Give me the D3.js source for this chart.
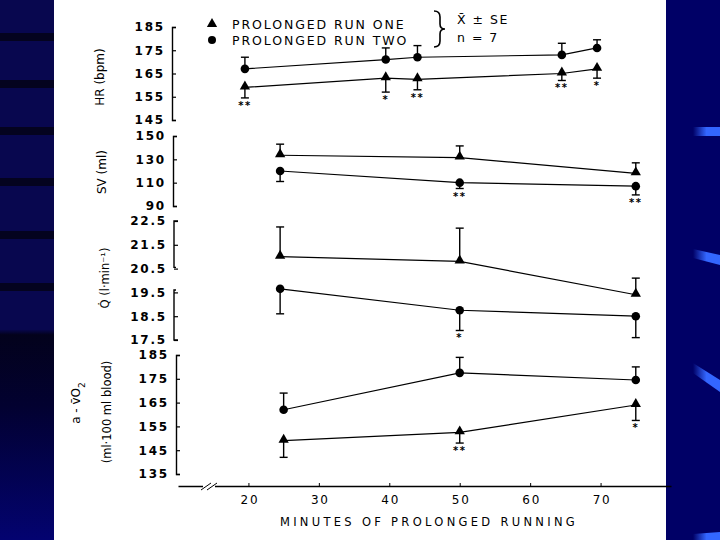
<!DOCTYPE html>
<html>
<head>
<meta charset="utf-8">
<script src="https://cdn.jsdelivr.net/npm/d3@7"></script>
<style>
  body { margin: 0; background: #fff; }
  svg { display: block; }
  text { font-family: "DejaVu Sans", "Liberation Sans", Arial, sans-serif; fill: #000; }
</style>
</head>
<body>
<svg id="chart" width="720" height="540"></svg>
<script>
// values
const hrMinutes = [19.5, 39.5, 44, 64.5, 69.5];
const hrRunOne = [159, 163, 162.5, 165, 167];
const hrRunOneSE = [4.5, 6, 4.5, 3, 4];
const hrRunTwo = [167, 171, 172, 173, 176];
const hrRunTwoSE = [5, 5, 5, 5, 3.5];
const hrStars = ["**", "*", "**", "**", "*"];

const svMinutes = [24.5, 50, 75];
const svRunOne = [133.5, 131.5, 118];
const svRunOneSE = [9.5, 10, 9];
const svRunTwo = [120, 110, 107];
const svRunTwoSE = [9, 5, 7.5];
const svStars = ["", "**", "**"];

const qMinutes = [24.5, 50, 75];
const qRunOne = [21.0, 20.8, 19.4];
const qRunOneSE = [1.25, 1.4, 0.7];
const qRunTwo = [19.65, 18.75, 18.5];
const qRunTwoSE = [1.05, 0.85, 0.9];
const qStars = ["", "*", ""];

const avMinutes = [25, 50, 75];
const avRunOne = [149, 152.5, 164];
const avRunOneSE = [7, 4.5, 6.5];
const avRunTwo = [162, 177.5, 174.5];
const avRunTwoSE = [7, 6.5, 5.5];
const avStars = ["", "**", "*"];

const xTicks = [20, 30, 40, 50, 60, 70];
const hrTicks = [145, 155, 165, 175, 185];
const svTicks = [90, 110, 130, 150];
const qTicks = [17.5, 18.5, 19.5, 20.5, 21.5, 22.5];
const avTicks = [135, 145, 155, 165, 175, 185];

const svg = d3.select("#chart");
const defs = svg.append("defs");

// slide background
svg.append("rect").attr("width", 720).attr("height", 540).attr("fill", "#ffffff");

const leftGrad = defs.append("linearGradient").attr("id", "leftGrad")
    .attr("x1", 0).attr("y1", 0).attr("x2", 0).attr("y2", 1);
leftGrad.append("stop").attr("offset", "0").attr("stop-color", "#08074f");
leftGrad.append("stop").attr("offset", "0.61").attr("stop-color", "#08074f");
leftGrad.append("stop").attr("offset", "0.62").attr("stop-color", "#03021c");
leftGrad.append("stop").attr("offset", "0.75").attr("stop-color", "#020130");
leftGrad.append("stop").attr("offset", "1").attr("stop-color", "#030370");
svg.append("rect").attr("x", 0).attr("y", 0).attr("width", 54).attr("height", 540)
    .attr("fill", "url(#leftGrad)");
[37, 84, 131, 182, 235, 287].forEach(y => {
  svg.append("rect").attr("x", 0).attr("y", y - 4).attr("width", 54).attr("height", 8)
      .attr("fill", "#04031f");
});

svg.append("rect").attr("x", 666).attr("y", 0).attr("width", 54).attr("height", 540)
    .attr("fill", "#000066");
const glow = defs.append("linearGradient").attr("id", "glow")
    .attr("x1", 0).attr("y1", 0).attr("x2", 1).attr("y2", 0);
glow.append("stop").attr("offset", "0").attr("stop-color", "#000066");
glow.append("stop").attr("offset", "0.5").attr("stop-color", "#3366ff");
glow.append("stop").attr("offset", "1").attr("stop-color", "#3366ff");
svg.append("path").attr("d", "M693,127 L720,127 L720,136 L693,136 Z").attr("fill", "url(#glow)");
svg.append("path").attr("d", "M693,249 L720,255 L720,265 L693,258 Z").attr("fill", "url(#glow)");
svg.append("path").attr("d", "M693,363 L720,380 L720,392 L693,373 Z").attr("fill", "url(#glow)");
svg.append("path").attr("d", "M693,534 L720,532 L720,540 L693,540 Z").attr("fill", "url(#glow)");

// shared x scale
const x = d3.scaleLinear().domain([10, 80]).range([178, 671]);

const panels = [
  { minutes: hrMinutes, one: hrRunOne, oneSE: hrRunOneSE, two: hrRunTwo, twoSE: hrRunTwoSE,
    stars: hrStars, starsOn: "one", ticks: hrTicks, domain: [145, 185], range: [120, 27],
    axisX: 172, fmt: d3.format("d") },
  { minutes: svMinutes, one: svRunOne, oneSE: svRunOneSE, two: svRunTwo, twoSE: svRunTwoSE,
    stars: svStars, starsOn: "two", ticks: svTicks, domain: [90, 150], range: [206, 136],
    axisX: 173, fmt: d3.format("d") },
  { minutes: qMinutes, one: qRunOne, oneSE: qRunOneSE, two: qRunTwo, twoSE: qRunTwoSE,
    stars: qStars, starsOn: "two", ticks: qTicks, domain: [17.5, 22.5], range: [340, 221],
    axisX: 174, fmt: d3.format(".1f"), broken: [20.55, 19.6] },
  { minutes: avMinutes, one: avRunOne, oneSE: avRunOneSE, two: avRunTwo, twoSE: avRunTwoSE,
    stars: avStars, starsOn: "one", ticks: avTicks, domain: [135, 185], range: [474, 355],
    axisX: 176, fmt: d3.format("d") }
];

const tri = d3.symbol().type(d3.symbolTriangle).size(46);

panels.forEach(p => {
  const y = d3.scaleLinear().domain(p.domain).range(p.range);

  const ax = svg.append("g")
      .attr("transform", "translate(" + p.axisX + ",0)")
      .call(d3.axisRight(y).tickValues(p.ticks).tickFormat(p.fmt)
        .tickSizeInner(4).tickSizeOuter(4));
  ax.selectAll("line").attr("stroke", "#000").attr("stroke-width", 1.2);
  ax.select(".domain").attr("stroke", "#000").attr("stroke-width", 1.4);
  ax.selectAll("text")
      .attr("x", -7).attr("text-anchor", "end")
      .style("font-size", "12px").style("font-weight", "bold").style("letter-spacing", "1.8px")
      .style("font-family", "'DejaVu Sans', 'Liberation Sans', Arial, sans-serif");

  if (p.broken) {
    ax.select(".domain").remove();
    const hi = p.domain[1], lo = p.domain[0];
    ax.append("path").attr("fill", "none").attr("stroke", "#000").attr("stroke-width", 1.4)
        .attr("d", "M4," + y(hi) + "H0V" + y(p.broken[0]) + "H2");
    ax.append("path").attr("fill", "none").attr("stroke", "#000").attr("stroke-width", 1.4)
        .attr("d", "M2," + y(p.broken[1]) + "H0V" + y(lo) + "H4");
  }

  const g = svg.append("g");
  const line = d3.line().x(d => x(d[0])).y(d => y(d[1]));

  [["one", p.one, p.oneSE], ["two", p.two, p.twoSE]].forEach(([key, vals, se]) => {
    // the run that carries the significance stars has its bars hanging down
    const up = key !== p.starsOn;
    const pts = p.minutes.map((m, i) => [m, vals[i]]);
    g.append("path").attr("d", line(pts)).attr("fill", "none")
        .attr("stroke", "#000").attr("stroke-width", 1.2);

    p.minutes.forEach((m, i) => {
      const cx = x(m), cy = y(vals[i]);
      const ey = y(up ? vals[i] + se[i] : vals[i] - se[i]);
      g.append("line").attr("x1", cx).attr("x2", cx).attr("y1", cy).attr("y2", ey)
          .attr("stroke", "#000").attr("stroke-width", 1.4);
      g.append("line").attr("x1", cx - 4).attr("x2", cx + 4).attr("y1", ey).attr("y2", ey)
          .attr("stroke", "#000").attr("stroke-width", 1.4);
      if (key === "one") {
        g.append("path").attr("d", tri).attr("transform", "translate(" + cx + "," + (cy - 1) + ")")
            .attr("fill", "#000");
      } else {
        g.append("circle").attr("cx", cx).attr("cy", cy).attr("r", 4.3).attr("fill", "#000");
      }
      if (key === p.starsOn && p.stars[i]) {
        g.append("text").attr("x", cx).attr("y", ey + 11)
            .attr("text-anchor", "middle").style("font-size", "10px").style("font-weight", "bold")
            .style("letter-spacing", "1.5px")
            .text(p.stars[i]);
      }
    });
  });
});

// x axis
const xa = svg.append("g").attr("transform", "translate(0,486)")
    .call(d3.axisBottom(x).tickValues(xTicks).tickFormat(d3.format("d"))
      .tickSizeInner(-3).tickSizeOuter(0));
xa.select(".domain").attr("stroke", "#000").attr("stroke-width", 1.4);
xa.selectAll("line").attr("stroke", "#000");
xa.selectAll("text").attr("y", 9).attr("dx", 1)
    .style("font-size", "12px").style("letter-spacing", "1.8px")
    .style("font-family", "'DejaVu Sans', 'Liberation Sans', Arial, sans-serif");
// axis break marks
svg.append("rect").attr("x", 203).attr("y", 483).attr("width", 12).attr("height", 6).attr("fill", "#fff");
svg.append("path").attr("d", "M201,490 L211,483 M207,490 L217,483")
    .attr("stroke", "#000").attr("stroke-width", 1);

svg.append("text").attr("x", 429).attr("y", 526).attr("text-anchor", "middle")
    .style("font-size", "11.5px").style("letter-spacing", "3.3px")
    .text("MINUTES OF PROLONGED RUNNING");

// y axis titles
function yTitle(tx, ty, str, size) {
  return svg.append("text").attr("transform", "translate(" + tx + "," + ty + ") rotate(-90)")
      .attr("text-anchor", "middle").style("font-size", size + "px").text(str);
}
yTitle(104, 77, "HR (bpm)", 12);
yTitle(106, 172, "SV (ml)", 12);
yTitle(109, 278, "Q\u0307 (l\u00b7min\u207b\u00b9)", 11.5);
const av = yTitle(80, 403, "", 12);
av.append("tspan").text("a - v\u0304O");
av.append("tspan").attr("dy", 5).style("font-size", "9px").text("2");
yTitle(111, 412, "(ml\u00b7100 ml blood)", 11.5);

// legend
const leg = svg.append("g");
leg.append("path").attr("d", tri).attr("transform", "translate(212,24)").attr("fill", "#000");
leg.append("circle").attr("cx", 212).attr("cy", 40).attr("r", 4).attr("fill", "#000");
leg.append("text").attr("x", 232).attr("y", 29).style("font-size", "12.5px")
    .style("letter-spacing", "1.9px").text("PROLONGED RUN ONE");
leg.append("text").attr("x", 232).attr("y", 45).style("font-size", "12.5px")
    .style("letter-spacing", "1.9px").text("PROLONGED RUN TWO");
leg.append("path").attr("fill", "none").attr("stroke", "#000").attr("stroke-width", 1.6)
    .attr("d", "M434,11 Q440,11 440,17 L440,24 Q440,29 445,29 Q440,29 440,34 L440,41 Q440,47 434,47");
leg.append("text").attr("x", 457).attr("y", 24).style("font-size", "12.5px")
    .style("letter-spacing", "1.5px").text("X\u0304 \u00b1 SE");
leg.append("text").attr("x", 457).attr("y", 42).style("font-size", "12.5px")
    .style("letter-spacing", "1.5px").text("n = 7");
</script>
</body>
</html>
